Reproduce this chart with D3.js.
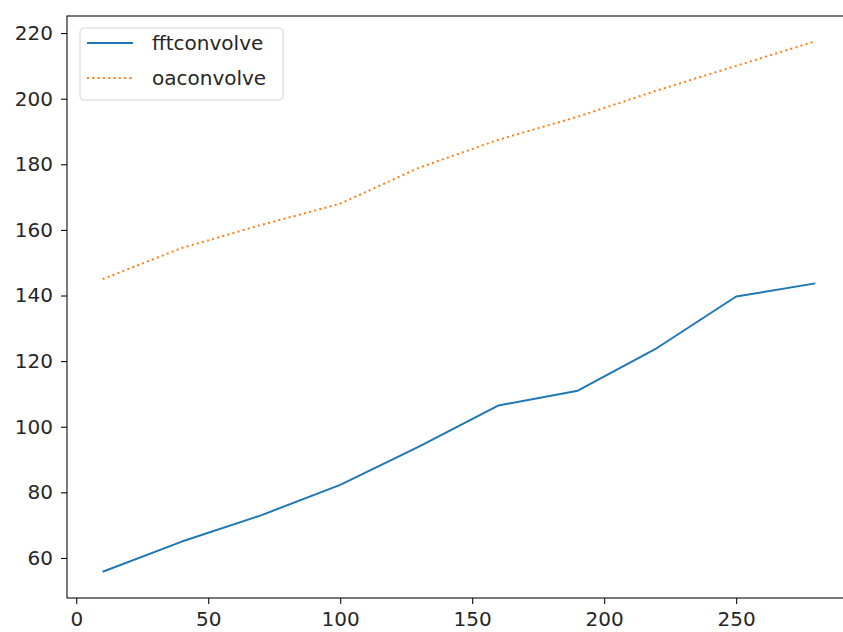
<!DOCTYPE html>
<html>
<head>
<meta charset="utf-8">
<script src="https://cdn.jsdelivr.net/npm/d3@7"></script>
<style>
  html, body { margin: 0; padding: 0; background: #fff; }
  svg { display: block; }
  text { font-family: "DejaVu Sans", sans-serif; }
</style>
</head>
<body>
<svg id="chart" width="843" height="632"></svg>
<script>
// ---- data ----
const xValues = [10, 40, 70, 100, 130, 160, 190, 220, 250, 280];
const fftconvolve = [55.8, 65.0, 73.0, 82.3, 94.0, 106.5, 111.0, 124.0, 139.7, 143.7];
const oaconvolve = [145.0, 154.5, 161.5, 168.0, 179.0, 187.5, 194.5, 202.5, 210.0, 217.5];
const seriesNames = ["fftconvolve", "oaconvolve"];
const xTicks = [0, 50, 100, 150, 200, 250];
const yTicks = [60, 80, 100, 120, 140, 160, 180, 200, 220];

(function () {
// ---- layout ----
const svg = d3.select("#chart");
const mLeft = 67, mRight = 851, mTop = 16, mBottom = 598;

const x = d3.scaleLinear().domain([-3.5, 293.5]).range([mLeft, mRight]);
const y = d3.scaleLinear().domain([47.8, 225.2]).range([mBottom, mTop]);

const colors = ["#1f77b4", "#ff7f0e"];
const fontSize = 20;

svg.append("defs").append("clipPath").attr("id", "clip")
  .append("rect").attr("x", mLeft).attr("y", mTop).attr("width", mRight - mLeft).attr("height", mBottom - mTop);

const plot = svg.append("g").attr("clip-path", "url(#clip)");

const line = d3.line().x(d => x(d[0])).y(d => y(d[1]));

const series = [fftconvolve, oaconvolve].map(vals => xValues.map((xv, i) => [xv, vals[i]]));

plot.append("path").datum(series[0])
  .attr("fill", "none").attr("stroke", colors[0]).attr("stroke-width", 2)
  .attr("stroke-linejoin", "round").attr("d", line);

plot.append("path").datum(series[1])
  .attr("fill", "none").attr("stroke", colors[1]).attr("stroke-width", 2)
  .attr("stroke-dasharray", "2,3.3").attr("d", line);

// axes
const xAxis = d3.axisBottom(x).tickValues(xTicks).tickSize(6).tickPadding(8).tickFormat(d3.format("d"));
const yAxis = d3.axisLeft(y).tickValues(yTicks).tickSize(6).tickPadding(8).tickFormat(d3.format("d"));

const gx = svg.append("g").attr("transform", `translate(0,${mBottom})`).call(xAxis);
const gy = svg.append("g").attr("transform", `translate(${mLeft},0)`).call(yAxis);
[gx, gy].forEach(g => {
  g.select(".domain").remove();
  g.selectAll(".tick line").attr("stroke", "#000").attr("stroke-width", 1.05);
  g.selectAll(".tick text").attr("fill", "#262626").style("font-size", fontSize + "px")
    .style("font-family", "DejaVu Sans, sans-serif");
});

// spines
svg.append("rect").attr("x", mLeft).attr("y", mTop)
  .attr("width", mRight - mLeft).attr("height", mBottom - mTop)
  .attr("fill", "none").attr("stroke", "#000").attr("stroke-width", 1.05);

// legend
const lg = svg.append("g");
lg.append("rect").attr("x", 80).attr("y", 28).attr("width", 203).attr("height", 72)
  .attr("rx", 4).attr("fill", "#fff").attr("fill-opacity", 0.8)
  .attr("stroke", "#d6d6d6").attr("stroke-width", 1.05);
seriesNames.forEach((name, i) => {
  const ly = 43 + i * 35;
  lg.append("line").attr("x1", 87).attr("x2", 133).attr("y1", ly).attr("y2", ly)
    .attr("stroke", colors[i]).attr("stroke-width", 2)
    .attr("stroke-dasharray", i === 1 ? "2,3.3" : null);
  lg.append("text").attr("x", 152).attr("y", ly).attr("dy", "0.35em")
    .attr("fill", "#262626").style("font-size", fontSize + "px").text(name);
});
})();
</script>
</body>
</html>
